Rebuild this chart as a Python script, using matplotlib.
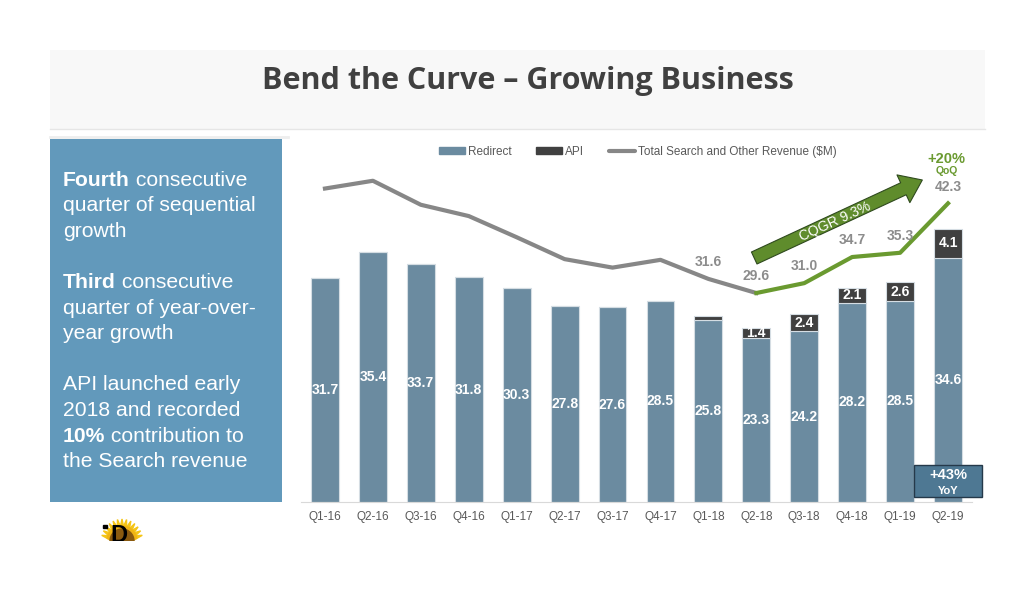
import matplotlib
matplotlib.use('Agg')
import matplotlib.pyplot as plt
from matplotlib.patches import Rectangle, FancyArrowPatch, Wedge, Polygon
from matplotlib.lines import Line2D
import numpy as np

quarters = ['Q1-16', 'Q2-16', 'Q3-16', 'Q4-16', 'Q1-17', 'Q2-17', 'Q3-17',
            'Q4-17', 'Q1-18', 'Q2-18', 'Q3-18', 'Q4-18', 'Q1-19', 'Q2-19']
redirect = [31.7, 35.4, 33.7, 31.8, 30.3, 27.8, 27.6, 28.5, 25.8, 23.3, 24.2, 28.2, 28.5, 34.6]
api = [0, 0, 0, 0, 0, 0, 0, 0, 0.5, 1.4, 2.4, 2.1, 2.6, 4.1]
api_labels = ['', '', '', '', '', '', '', '', '', '1.4', '2.4', '2.1', '2.6', '4.1']
total = [44.4, 45.5, 42.1, 40.5, 37.5, 34.4, 33.2, 34.3, 31.6, 29.6, 31.0, 34.7, 35.3, 42.3]
total_labels = ['', '', '', '', '', '', '', '', '31.6', '29.6', '31.0', '34.7', '35.3', '42.3']

panel_lines = [
    [('Fourth', 'bold'), (' consecutive', 'normal')],
    [('quarter of sequential', 'normal')],
    [('growth', 'normal')],
    None,
    [('Third', 'bold'), (' consecutive', 'normal')],
    [('quarter of year-over-', 'normal')],
    [('year growth', 'normal')],
    None,
    [('API launched early', 'normal')],
    [('2018 and recorded', 'normal')],
    [('10%', 'bold'), (' contribution to', 'normal')],
    [('the Search revenue', 'normal')],
]

C_REDIRECT = '#6b8ba0'
C_API = '#404040'
C_TOTAL = '#878787'
C_GREEN = '#6a9a30'
C_PANEL = '#6299bb'
W, H = 1034, 590


def px(x, y):
    return x / W, 1 - y / H


plt.rcParams['font.family'] = ['Liberation Sans', 'DejaVu Sans']
fig = plt.figure(figsize=(W / 100, H / 100), dpi=100)

# header band
fig.patches.append(Rectangle(px(50, 129), 935 / W, 79 / H, transform=fig.transFigure,
                             facecolor='#f8f8f8', edgecolor='none', zorder=0))
fig.add_artist(Line2D([50 / W, 985 / W], [1 - 129 / H] * 2, color='#e6e6e6', lw=1))
fig.text(*px(528, 81), 'Bend the Curve \u2013 Growing Business', family=['Open Sans', 'DejaVu Sans'],
         fontweight='bold', fontsize=22, color='#404040', ha='center', va='center')

# left panel
fig.add_artist(Line2D([50 / W, 288 / W], [1 - 137 / H] * 2, color='#eeeeee', lw=2))
fig.patches.append(Rectangle(px(50, 502), 232 / W, 363 / H, transform=fig.transFigure,
                             facecolor=C_PANEL, edgecolor='none', zorder=0))
y0 = 180
for i, line in enumerate(panel_lines):
    if line is None:
        continue
    yy = y0 + i * 25.6
    prev = None
    for txt, wt in line:
        if prev is None:
            prev = fig.text(*px(63, yy), txt, fontsize=15.2, fontweight=wt, color='white',
                            ha='left', va='center')
        else:
            prev = fig.add_artist(matplotlib.text.Annotation(
                txt, xy=(1, 0.5), xycoords=prev, fontsize=15.2, fontweight=wt,
                color='white', ha='left', va='center'))

# main chart
l, b = px(301, 502)
ax = fig.add_axes([l, b, 671 / W, 353 / H])
x = np.arange(len(quarters))
ax.bar(x, redirect, width=0.58, color=C_REDIRECT, edgecolor='#d5dde3', linewidth=0.8, zorder=2)
ax.bar(x, api, width=0.58, bottom=redirect, color=C_API, edgecolor='#d5dde3', linewidth=0.8, zorder=2)
for xi, r, a, al in zip(x, redirect, api, api_labels):
    ax.text(xi, r / 2, f'{r:.1f}', ha='center', va='center', color='white',
            fontsize=10, fontweight='bold', zorder=4)
    if al:
        ax.text(xi, r + a / 2, al, ha='center', va='center', color='white',
                fontsize=10, fontweight='bold', zorder=4)

ax.plot(x[:10], total[:10], color=C_TOTAL, lw=3, zorder=3)
ax.plot(x[9:], total[9:], color=C_GREEN, lw=3, zorder=3)
for xi, t, tl in zip(x, total, total_labels):
    if tl:
        ax.annotate(tl, (xi, t), xytext=(0, 12), textcoords='offset points', ha='center',
                    va='center', color='#8c8c8c', fontsize=10, fontweight='bold', zorder=4)

ax.set_xlim(-0.5, 13.5)
ax.set_ylim(0, 50)
ax.set_xticks(x)
ax.set_xticklabels(quarters)
ax.tick_params(axis='x', length=0, pad=6.5, labelsize=8.5, labelcolor='#595959')
ax.set_yticks([])
for s in ['top', 'left', 'right']:
    ax.spines[s].set_visible(False)
ax.spines['bottom'].set_color('#d9d9d9')
ax.patch.set_alpha(0)


def dpt(xp, yp):
    return (xp - 325) / 47.9, (502 - yp) / 7.06


arrow = FancyArrowPatch(dpt(754, 258), dpt(922, 180),
                        arrowstyle='simple,head_length=15,head_width=22,tail_width=9.5',
                        mutation_scale=1, shrinkA=0, shrinkB=0, facecolor='#5f8c2c',
                        edgecolor='#2f4a1e', lw=0.8, zorder=5, clip_on=False)
ax.add_patch(arrow)
ax.text(*dpt(835, 222), 'CQGR 9.3%', rotation=24.6, rotation_mode='anchor', ha='center',
        va='center', color='white', fontsize=10, zorder=6, clip_on=False)
ax.text(*dpt(946, 159), '+20%', ha='center', va='center', color=C_GREEN, fontsize=10.5,
        fontweight='bold', clip_on=False)
ax.text(*dpt(946, 171), 'QoQ', ha='center', va='center', color=C_GREEN, fontsize=7.5,
        fontweight='bold', clip_on=False)

# YoY box
fig.patches.append(Rectangle(px(914, 497), 68 / W, 32 / H, transform=fig.transFigure,
                             facecolor='#4e7893', edgecolor='#25394a', lw=1, zorder=6))
fig.text(*px(948, 475), '+43%', ha='center', va='center', color='white', fontsize=10.5,
         fontweight='bold', zorder=7)
fig.text(*px(948, 491), 'YoY', ha='center', va='center', color='white', fontsize=8,
         fontweight='bold', zorder=7)

# legend
handles = [Rectangle((0, 0), 1, 1, color=C_REDIRECT), Rectangle((0, 0), 1, 1, color=C_API),
           Line2D([], [], color=C_TOTAL, lw=3, solid_capstyle='round')]
fig.legend(handles, ['Redirect', 'API', 'Total Search and Other Revenue ($M)'],
           loc='center', bbox_to_anchor=px(638, 152), ncol=3, frameon=False, fontsize=8.5,
           handlelength=2.2, handleheight=0.5, handletextpad=0.25, columnspacing=2.1,
           labelcolor='#595959', borderpad=0)

# small logo (sunflower over a black D, cut at the bottom)
lax = fig.add_axes([100 / W, 1 - 541 / H, 45 / W, 26 / H])
lax.set_xlim(0, 45)
lax.set_ylim(0, 26)
lax.axis('off')
cx, cy = 22, 0
for ang in np.linspace(15, 165, 13):
    r = np.radians(ang)
    tip = (cx + 21 * np.cos(r), cy + 22 * np.sin(r))
    left = (cx + 12 * np.cos(r + 0.18), cy + 12 * np.sin(r + 0.18))
    right = (cx + 12 * np.cos(r - 0.18), cy + 12 * np.sin(r - 0.18))
    lax.add_patch(Polygon([left, tip, right], closed=True, color='#f5c517'))
lax.add_patch(Wedge((cx, cy), 15, 10, 170, color='#f0b414'))
lax.add_patch(Wedge((cx, cy), 12, 0, 180, color='#8a5a10'))
lax.text(19, -6, 'D', fontsize=17, fontweight='bold', color='black', ha='center', va='bottom',
         clip_on=True)
lax.add_patch(Rectangle((3, 13), 4, 3, color='black'))

fig.savefig('out.png', dpi=100)
